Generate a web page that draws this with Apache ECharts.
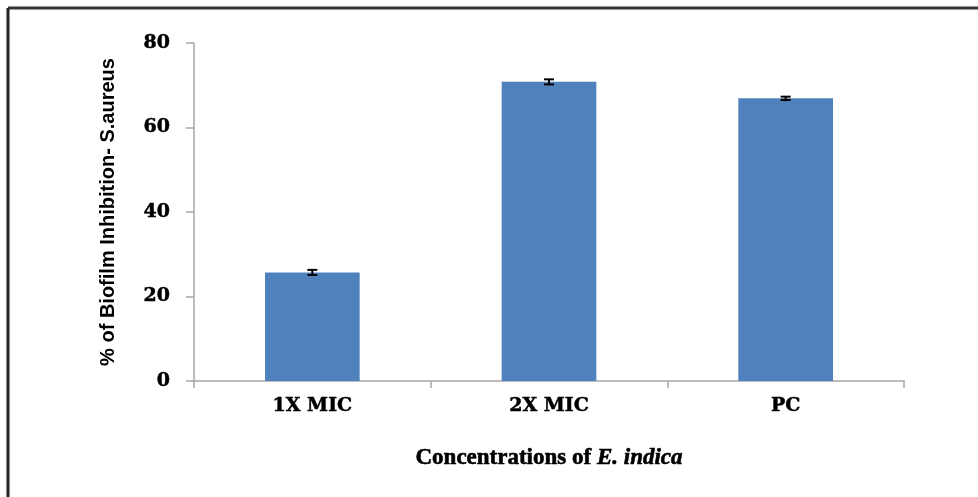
<!DOCTYPE html>
<html>
<head>
<meta charset="utf-8">
<script src="https://cdn.jsdelivr.net/npm/echarts@6/dist/echarts.min.js"></script>
<style>html,body{margin:0;padding:0;background:#fff;}#main{width:978px;height:497px;}</style>
</head>
<body>
<div id="main"></div>
<script>
const categories = ['1X MIC', '2X MIC', 'PC'];
const values = [25.7, 70.8, 66.9];
const errors = [0.6, 0.6, 0.4];
const yTicks = [0, 20, 40, 60, 80];

const chart = echarts.init(document.getElementById('main'), null, {renderer: 'canvas'});
const errData = categories.map((c, i) => [i, values[i] - errors[i], values[i] + errors[i]]);

chart.setOption({
  backgroundColor: '#ffffff',
  animation: false,
  grid: {left: 194, right: 74, top: 43, bottom: 116},
  xAxis: {
    type: 'category',
    data: categories,
    name: '{a|Concentrations of }{b|E. indica}',
    nameLocation: 'middle',
    nameGap: 66,
    nameTextStyle: {
      rich: {
        a: {fontFamily: 'Liberation Serif', fontWeight: 'bold', fontSize: 23, color: '#000', textBorderColor: '#000', textBorderWidth: 0.6},
        b: {fontFamily: 'Liberation Serif', fontWeight: 'bold', fontStyle: 'italic', fontSize: 23, color: '#000', textBorderColor: '#000', textBorderWidth: 0.6}
      }
    },
    axisLine: {lineStyle: {color: '#a6a6a6', width: 1.5}},
    axisTick: {show: true, length: 7, alignWithLabel: false, lineStyle: {color: '#a6a6a6', width: 1.5}},
    axisLabel: {fontFamily: 'DejaVu Serif', fontWeight: 'bold', fontSize: 19, color: '#000', margin: 16,
      textBorderColor: '#000', textBorderWidth: 0.5}
  },
  yAxis: {
    type: 'value',
    min: 0, max: 80, interval: 20,
    name: '% of Biofilm Inhibition- S.aureus',
    nameLocation: 'middle',
    nameGap: 76,
    nameRotate: 90,
    nameTextStyle: {fontFamily: 'Liberation Sans', fontWeight: 'bold', fontSize: 20, color: '#000'},
    axisLine: {show: true, lineStyle: {color: '#a6a6a6', width: 1.5}},
    axisTick: {show: true, length: 8, lineStyle: {color: '#a6a6a6', width: 1.5}},
    splitLine: {show: false},
    axisLabel: {fontFamily: 'DejaVu Serif', fontWeight: 'bold', fontSize: 19, color: '#000', margin: 24,
      textBorderColor: '#000', textBorderWidth: 0.5,
      formatter: v => yTicks.includes(v) ? String(v) : ''}
  },
  series: [
    {
      type: 'bar',
      data: values,
      barWidth: '40%',
      itemStyle: {color: '#4f81bd'}
    },
    {
      type: 'custom',
      data: errData,
      z: 10,
      renderItem: function (params, api) {
        const x = api.value(0);
        const lo = api.coord([x, api.value(1)]);
        const hi = api.coord([x, api.value(2)]);
        const hw = 5;
        const style = {stroke: '#000', lineWidth: 2};
        return {
          type: 'group',
          children: [
            {type: 'line', shape: {x1: lo[0], y1: lo[1], x2: hi[0], y2: hi[1]}, style: style},
            {type: 'line', shape: {x1: lo[0] - hw, y1: lo[1], x2: lo[0] + hw, y2: lo[1]}, style: style},
            {type: 'line', shape: {x1: hi[0] - hw, y1: hi[1], x2: hi[0] + hw, y2: hi[1]}, style: style}
          ]
        };
      }
    }
  ],
  graphic: [
    {type: 'line', shape: {x1: 8, y1: 8, x2: 978, y2: 8}, style: {stroke: '#333', lineWidth: 3}},
    {type: 'line', shape: {x1: 8, y1: 8, x2: 8, y2: 497}, style: {stroke: '#222', lineWidth: 3}}
  ]
});
</script>
</body>
</html>
